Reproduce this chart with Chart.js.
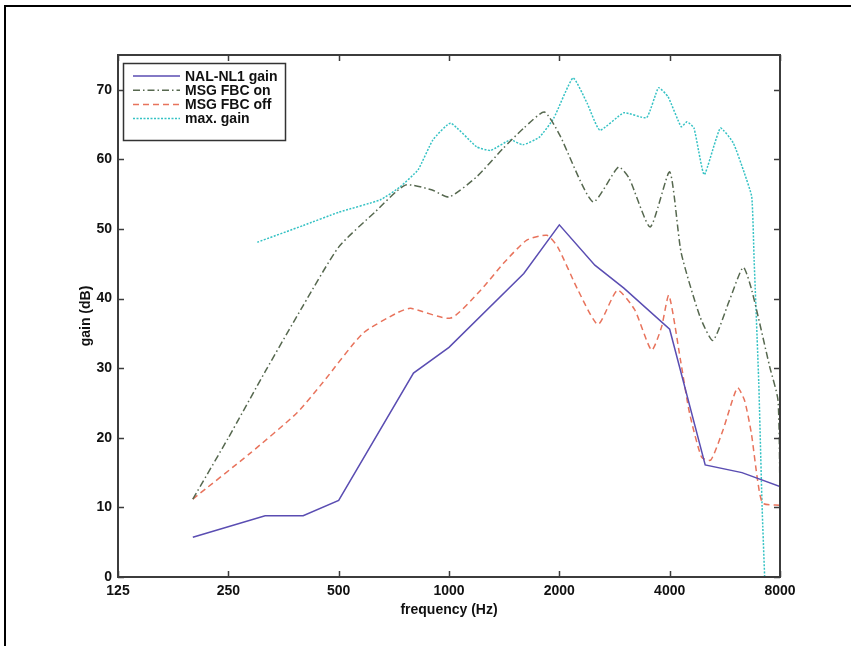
<!DOCTYPE html>
<html>
<head>
<meta charset="utf-8">
<script src="https://cdn.jsdelivr.net/npm/chart.js@4"></script>
<style>
    html, body { margin: 0; padding: 0; background: #fff; }
    #wrap { position: relative; width: 851px; height: 646px; overflow: hidden; }
    #frame { position: absolute; left: 4px; top: 5px; right: -5px; bottom: -5px;
             border-top: 2.5px solid #000; border-left: 2.5px solid #000; pointer-events: none; }
</style>
</head>
<body>
<div id="wrap">
    <canvas id="gainChart" width="851" height="646"></canvas>
    <div id="frame"></div>
</div>
<script>
// tick labels
const freqTicks = [125, 250, 500, 1000, 2000, 4000, 8000];
const gainTicks = [0, 10, 20, 30, 40, 50, 60, 70];

// NAL-NL1 gain
const nalFreq = [200, 315, 400, 500, 800, 1000, 1600, 2000, 2500, 3000, 4000, 5000, 6300, 8000];
const nalGain = [5.7, 8.8, 8.8, 11, 29.3, 33, 43.6, 50.6, 44.8, 41.5, 35.6, 16.1, 15, 13];

// MSG FBC on
const onFreq = [200, 250, 315, 400, 500, 630, 760, 900, 1000, 1190, 1400, 1600, 1820, 2000, 2470, 2900, 3100, 3540, 4000, 4300, 4840, 5250, 5800, 6350, 6700, 7500, 7900, 8000];
const onGain = [11.2, 20, 29.5, 39, 47.4, 52.5, 56.3, 55.6, 54.6, 57.5, 61.5, 64.5, 66.8, 63.6, 53.9, 58.9, 57.3, 50.3, 58.2, 46.6, 37.4, 34, 39.5, 44.5, 41.2, 30.2, 25.4, 12];

// MSG FBC off
const offFreq = [200, 287, 385, 452, 582, 725, 785, 1010, 1220, 1410, 1630, 1850, 1980, 2250, 2550, 2880, 3210, 3570, 3800, 3980, 4280, 4530, 4890, 5180, 5590, 6120, 6400, 6680, 6950, 7180, 8000];
const offGain = [11.2, 17.8, 23.6, 27.9, 35, 38, 38.6, 37.2, 41.2, 45.1, 48.4, 49.1, 47.4, 41.2, 36.3, 41.2, 38.4, 32.6, 35.9, 40.5, 31.2, 23.6, 17.2, 16.8, 21.1, 27.2, 25.4, 20.7, 13.9, 10.6, 10.3];

// max. gain
const maxFreq = [300, 400, 500, 650, 733, 823, 904, 1010, 1190, 1300, 1470, 1590, 1765, 1930, 2180, 2380, 2580, 3000, 3460, 3730, 3960, 4300, 4460, 4660, 4970, 5500, 5960, 6400, 6700, 6800, 7000, 7150, 7300];
const maxGain = [48.1, 50.5, 52.4, 54.2, 56, 58.5, 62.8, 65.2, 61.8, 61.3, 62.8, 62.1, 63.2, 65.9, 71.7, 68.1, 64.2, 66.7, 66, 70.3, 69, 64.7, 65.4, 64.5, 57.8, 64.5, 62.4, 58, 54.6, 45.5, 28, 10, -3];

const toPoints = (xs, ys) => xs.map((f, i) => ({ x: f, y: ys[i] }));

const fontFamily = '"Liberation Sans", Arial, Helvetica, sans-serif';
const textColor = '#111';

const series = [
    { label: 'NAL-NL1 gain', freq: nalFreq, gain: nalGain, color: '#5a4db2', dash: [], tension: 0 },
    { label: 'MSG FBC on', freq: onFreq, gain: onGain, color: '#56684f', dash: [7, 3, 1.5, 3], tension: 0.2 },
    { label: 'MSG FBC off', freq: offFreq, gain: offGain, color: '#e8735c', dash: [6, 4], tension: 0.2 },
    { label: 'max. gain', freq: maxFreq, gain: maxGain, color: '#35c2c4', dash: [2, 1.5], tension: 0.15 }
];

// MATLAB-like box, inward ticks and a boxed legend
const matlabAxes = {
    id: 'matlabAxes',
    afterDatasetsDraw(chart) {
        const { ctx, chartArea: a, scales: { x, y } } = chart;
        ctx.save();
        ctx.strokeStyle = '#3c3c3c';
        ctx.lineWidth = 2;
        ctx.strokeRect(a.left, a.top, a.right - a.left, a.bottom - a.top);

        ctx.lineWidth = 1.5;
        ctx.beginPath();
        freqTicks.forEach(f => {
            const px = Math.round(x.getPixelForValue(f)) + 0.5;
            ctx.moveTo(px, a.bottom); ctx.lineTo(px, a.bottom - 6);
            ctx.moveTo(px, a.top); ctx.lineTo(px, a.top + 6);
        });
        gainTicks.forEach(g => {
            const py = Math.round(y.getPixelForValue(g)) + 0.5;
            ctx.moveTo(a.left, py); ctx.lineTo(a.left + 6, py);
            ctx.moveTo(a.right, py); ctx.lineTo(a.right - 6, py);
        });
        ctx.stroke();

        // legend
        const lx = a.left + 5, ly = a.top + 8, lw = 162, lh = 77;
        ctx.fillStyle = '#fff';
        ctx.fillRect(lx, ly, lw, lh);
        ctx.strokeStyle = '#333';
        ctx.lineWidth = 1.5;
        ctx.strokeRect(lx + 0.5, ly + 0.5, lw, lh);
        ctx.font = 'bold 14px ' + fontFamily;
        ctx.textBaseline = 'middle';
        series.forEach((s, i) => {
            const ry = ly + 13 + i * 14.2;
            ctx.strokeStyle = s.color;
            ctx.lineWidth = 1.5;
            ctx.setLineDash(s.dash);
            ctx.beginPath();
            ctx.moveTo(lx + 10, ry); ctx.lineTo(lx + 57, ry);
            ctx.stroke();
            ctx.setLineDash([]);
            ctx.fillStyle = textColor;
            ctx.fillText(s.label, lx + 62, ry + 1);
        });
        ctx.restore();
    }
};

new Chart(document.getElementById('gainChart'), {
    type: 'line',
    data: {
        datasets: series.map(s => ({
            label: s.label,
            data: toPoints(s.freq, s.gain),
            borderColor: s.color,
            borderWidth: 1.5,
            borderDash: s.dash,
            pointRadius: 0,
            tension: s.tension,
            fill: false,
            clip: 0
        }))
    },
    options: {
        responsive: false,
        animation: false,
        layout: { padding: { top: 55, right: 71, left: 0, bottom: 0 } },
        plugins: {
            legend: { display: false },
            tooltip: { enabled: false }
        },
        scales: {
            x: {
                type: 'logarithmic',
                min: 125,
                max: 8000,
                afterBuildTicks: s => { s.ticks = freqTicks.map(v => ({ value: v })); },
                afterFit: s => { s.height = 69; },
                grid: { display: false, drawTicks: false },
                border: { display: false },
                ticks: {
                    autoSkip: false, maxRotation: 0, padding: 6, color: textColor,
                    font: { family: fontFamily, size: 14, weight: 'bold' },
                    callback: v => String(v)
                },
                title: {
                    display: true, text: 'frequency (Hz)', color: textColor,
                    font: { family: fontFamily, size: 14, weight: 'bold' },
                    padding: { top: 0, bottom: 27 }
                }
            },
            y: {
                type: 'linear',
                min: 0,
                max: 75,
                afterBuildTicks: s => { s.ticks = gainTicks.map(v => ({ value: v })); },
                afterFit: s => { s.width = 118; },
                grid: { display: false, drawTicks: false },
                border: { display: false },
                ticks: {
                    padding: 6, color: textColor,
                    font: { family: fontFamily, size: 14, weight: 'bold' }
                },
                title: {
                    display: true, text: 'gain (dB)', color: textColor,
                    font: { family: fontFamily, size: 14, weight: 'bold' },
                    padding: { top: 78, bottom: 0 }
                }
            }
        }
    },
    plugins: [matlabAxes]
});
</script>
</body>
</html>
